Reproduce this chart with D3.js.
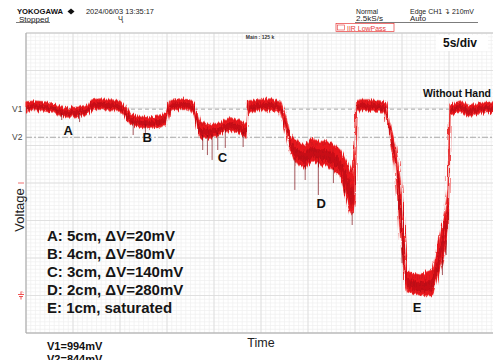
<!DOCTYPE html>
<html><head><meta charset="utf-8">
<script src="https://cdn.jsdelivr.net/npm/d3@7"></script>
<style>
html,body{margin:0;padding:0;background:#fff;overflow:hidden;}
svg{display:block;}
</style></head>
<body>
<script>
// ---- data ----
const time  = [0,0.96,2.0,2.9,3.6,4.7,5.7,6.6,7.0,7.9,8.9,10.0,10.4,11.1,12.1,13.2,14.3,14.9,15.3,16.4,17.4,17.9,18.5,19.6,20.6,21.7,22.8,23.4,23.6,24.9,26.0,27.0,27.6,28.1,28.6,29.1,29.7,30.2,30.7,31.3,31.8,32.3,32.9,33.4,34.0,34.7,35.0,35.2,35.5,36.6,37.7,38.3,38.7,39.3,39.8,40.3,40.6,41.9,43.2,43.6,44.0,44.6,44.9,45.1,46.2,47.2,48.3,50];
const upper = [1032,1037,1032,1021,1005,1000,1005,1016,1043,1048,1043,1037,1016,968,957,952,957,973,1037,1048,1043,1021,925,909,920,947,931,915,1037,1043,1048,1037,963,856,835,813,800,829,835,819,825,813,800,776,723,643,776,1032,1043,1043,1037,1027,909,803,616,296,125,109,136,216,323,456,563,1016,1037,1011,1027,1032];
const lower = [984,989,984,979,957,952,957,968,989,995,989,989,968,915,899,893,899,915,984,995,989,963,840,840,856,883,867,845,979,989,989,979,883,776,720,696,680,712,712,696,700,680,660,643,536,429,509,979,989,984,984,968,829,696,349,83,19,3,0,56,136,243,349,963,979,952,973,979];
const spikeTime  = [3.8,5.7,11.4,12.7,18.8,19.3,19.8,20.4,21.2,23.1,28.6,29.7,31.1,32.7,33.9,34.7,40.0,44.3,44.7];
const spikeLevel = [936,925,856,867,776,749,723,776,787,792,563,616,536,600,547,376,173,109,216];
const cursorNames  = ["V1","V2"];
const cursorLevels = [994,844];
const pointLabels = ["A","B","C","D","E"];
const pointTime   = [4.5,12.9,20.9,31.4,41.6];
const pointLevel  = [856,818,712,467,-90];
const legendLines = ["A: 5cm, \u0394V=20mV","B: 4cm, \u0394V=80mV","C: 3cm, \u0394V=140mV","D: 2cm, \u0394V=280mV","E: 1cm, saturated"];
const cursorNotes = ["V1=994mV","V2=844mV"];

const W = 493, H = 360;
const svg = d3.select("body").append("svg").attr("width", W).attr("height", H);

const x = d3.scaleLinear().domain([0, 50]).range([26, 496]);
const y = d3.scaleLinear().domain([-200, 1400]).range([333, 33]);

// ---- grid ----
const grid = svg.append("g");
grid.selectAll("line.vminor").data(d3.range(0, 50.01, 0.5)).join("line")
  .attr("x1", d => x(d)).attr("x2", d => x(d)).attr("y1", y(1400)).attr("y2", y(-200))
  .attr("stroke", "#efefef").attr("stroke-width", 0.7);
grid.selectAll("line.hminor").data(d3.range(-200, 1400.1, 20)).join("line")
  .attr("x1", x(0)).attr("x2", x(50)).attr("y1", d => y(d)).attr("y2", d => y(d))
  .attr("stroke", "#efefef").attr("stroke-width", 0.7);
grid.selectAll("line.vmajor").data(d3.range(5, 50.01, 5)).join("line")
  .attr("x1", d => x(d)).attr("x2", d => x(d)).attr("y1", y(1400)).attr("y2", y(-200))
  .attr("stroke", "#dadada").attr("stroke-width", 0.8);
grid.selectAll("line.hmajor").data(d3.range(-200, 1400.1, 200)).join("line")
  .attr("x1", x(0)).attr("x2", x(50)).attr("y1", d => y(d)).attr("y2", d => y(d))
  .attr("stroke", "#dadada").attr("stroke-width", 0.8);
// frame
svg.append("line").attr("x1", x(0)).attr("x2", x(50)).attr("y1", y(1400)).attr("y2", y(1400)).attr("stroke", "#c8c8c8");
svg.append("line").attr("x1", x(0)).attr("x2", x(0)).attr("y1", y(1400)).attr("y2", y(-200)).attr("stroke", "#aaaaaa").attr("stroke-width", 1.2);
svg.append("line").attr("x1", x(0)).attr("x2", x(50)).attr("y1", y(-200)).attr("y2", y(-200)).attr("stroke", "#aaaaaa").attr("stroke-width", 1.2);

// ---- cursor lines ----
const dashes = ["4,3", "6,2,2,2"];
cursorLevels.forEach((v, i) => {
  svg.append("line").attr("x1", x(0)).attr("x2", x(50)).attr("y1", y(v)).attr("y2", y(v))
    .attr("stroke", "#a8a8a8").attr("stroke-width", 1).attr("stroke-dasharray", dashes[i]);
  svg.append("text").attr("x", 12).attr("y", y(v) + 3).text(cursorNames[i])
    .attr("font-family", "Liberation Sans, Arial, sans-serif").attr("font-size", 8.5).attr("fill", "#444");
});

// ---- waveform ----
const defs = svg.append("defs");
const pat = defs.append("pattern").attr("id", "noise").attr("patternUnits", "userSpaceOnUse")
  .attr("width", 2).attr("height", 7);
pat.append("rect").attr("width", 2).attr("height", 7).attr("fill", "#e8141c");
pat.append("rect").attr("x", 1).attr("y", 2).attr("width", 0.6).attr("height", 4).attr("fill", "#a00a12").attr("opacity", 0.35);
const flt = defs.append("filter").attr("id", "rough").attr("x", "-2%").attr("y", "-10%").attr("width", "104%").attr("height", "120%");
flt.append("feTurbulence").attr("type", "fractalNoise").attr("baseFrequency", "0.9 0.04").attr("numOctaves", 2).attr("seed", 3).attr("result", "n");
flt.append("feDisplacementMap").attr("in", "SourceGraphic").attr("in2", "n").attr("scale", 7).attr("xChannelSelector", "R").attr("yChannelSelector", "G");

const data = time.map((t, i) => ({t, hi: upper[i], lo: lower[i]}));
const area = d3.area().x(d => x(d.t)).y0(d => y(d.lo)).y1(d => y(d.hi));
// darker core of the noise band (middle part of the envelope)
const core = d3.area().x(d => x(d.t))
  .y0(d => y(d.lo + (d.hi - d.lo) * 0.2)).y1(d => y(d.hi - (d.hi - d.lo) * 0.35));
const wave = svg.append("g").attr("filter", "url(#rough)");
wave.append("path").datum(data).attr("d", area)
  .attr("fill", "#f3a0a0").attr("stroke", "#f3a0a0").attr("stroke-width", 2.2).attr("opacity", 0.8);
wave.append("path").datum(data).attr("d", area)
  .attr("fill", "url(#noise)").attr("stroke", "#ee2a2a").attr("stroke-width", 0.8);
wave.append("path").datum(data).attr("d", core)
  .attr("fill", "#8c0a10").attr("opacity", 0.35);

// spikes hanging below the band
const bis = d3.bisector(d => d.t).left;
function lowAt(t) {
  const i = Math.max(1, Math.min(data.length - 1, bis(data, t)));
  const a = data[i - 1], b = data[i];
  const f = (t - a.t) / (b.t - a.t);
  return a.lo + f * (b.lo - a.lo);
}
svg.append("g").selectAll("line").data(spikeTime).join("line")
  .attr("x1", d => x(d)).attr("x2", d => x(d))
  .attr("y1", d => y(lowAt(d)) - 3)
  .attr("y2", (d, i) => y(spikeLevel[i]))
  .attr("stroke", "#7a0a12").attr("stroke-width", 0.9).attr("opacity", 0.75);

// ---- point labels ----
svg.append("g").selectAll("text").data(pointLabels).join("text")
  .attr("x", (d, i) => x(pointTime[i])).attr("y", (d, i) => y(pointLevel[i]))
  .attr("text-anchor", "middle").text(d => d)
  .attr("font-family", "Liberation Sans, Arial, sans-serif").attr("font-weight", "bold")
  .attr("font-size", 13).attr("fill", "#111");

// ---- legend ----
svg.append("g").selectAll("text").data(legendLines).join("text")
  .attr("x", 47).attr("y", (d, i) => 241 + i * 18).text(d => d)
  .attr("font-family", "Liberation Sans, Arial, sans-serif").attr("font-weight", "bold")
  .attr("font-size", 15).attr("fill", "#151515");

// ---- annotations ----
svg.append("text").attr("x", 423).attr("y", 97).text("Without Hand")
  .attr("textLength", 68).attr("lengthAdjust", "spacingAndGlyphs")
  .attr("font-family", "Liberation Sans, Arial, sans-serif").attr("font-weight", "bold")
  .attr("font-size", 11).attr("fill", "#111");
svg.append("rect").attr("x", 436).attr("y", 35).attr("width", 52).attr("height", 16).attr("fill", "#fff");
svg.append("text").attr("x", 443).attr("y", 47).text("5s/div")
  .attr("font-family", "Liberation Sans, Arial, sans-serif").attr("font-weight", "bold")
  .attr("font-size", 12).attr("fill", "#111");
svg.append("text").attr("x", 260).attr("y", 38.5).attr("text-anchor", "middle").text("Main : 125 k")
  .attr("font-family", "Liberation Sans, Arial, sans-serif").attr("font-weight", "bold")
  .attr("font-size", 5).attr("fill", "#333");

// axis titles
svg.append("text").attr("transform", `translate(24,${y(600) + 27}) rotate(-90)`).attr("text-anchor", "middle")
  .text("Voltage").attr("font-family", "Liberation Sans, Arial, sans-serif").attr("font-size", 13).attr("fill", "#222");
svg.append("text").attr("x", 261).attr("y", 347).attr("text-anchor", "middle").text("Time")
  .attr("font-family", "Liberation Sans, Arial, sans-serif").attr("font-size", 12.5).attr("fill", "#222");
svg.append("g").selectAll("text").data(cursorNotes).join("text")
  .attr("x", 47).attr("y", (d, i) => 350 + i * 13).text(d => d)
  .attr("font-family", "Liberation Sans, Arial, sans-serif").attr("font-weight", "bold")
  .attr("font-size", 11).attr("fill", "#111");

// left markers (red)
svg.append("line").attr("x1", 18).attr("x2", 24).attr("y1", y(600)).attr("y2", y(600)).attr("stroke", "#f07070").attr("stroke-width", 1);
const g0 = svg.append("g").attr("transform", `translate(21,${y(0)})`).attr("stroke", "#ee4040").attr("fill", "none").attr("stroke-width", 0.9);
g0.append("path").attr("d", "M-3,-1 H3 M-2,1 H2 M0,-4 V-1 M0,1 V4 M1,-4 L2,-3");

// ---- header ----
const hf = "Liberation Sans, Arial, sans-serif";
function htxt(tx, ty, s, len, opts = {}) {
  const t = svg.append("text").attr("x", tx).attr("y", ty).text(s)
    .attr("font-family", hf).attr("font-size", opts.size || 8).attr("fill", opts.fill || "#222");
  if (opts.bold) t.attr("font-weight", "bold");
  if (len) t.attr("textLength", len).attr("lengthAdjust", "spacingAndGlyphs");
  return t;
}
htxt(17, 13.5, "YOKOGAWA", 46, {size: 8, bold: true, fill: "#111"});
svg.append("path").attr("d", `M71,8.5 L74.5,11.5 L71,14.5 L67.5,11.5 Z`).attr("fill", "#111");
htxt(19, 21.5, "Stopped", 30, {size: 7.5});
svg.append("line").attr("x1", 16).attr("x2", 50).attr("y1", 22.5).attr("y2", 22.5).attr("stroke", "#444").attr("stroke-width", 0.7);
htxt(86, 13.5, "2024/06/03 13:35:17", 68, {size: 8});
htxt(118, 21, "\u04B6", 5, {size: 7});
htxt(356, 13.5, "Normal", 22, {size: 8});
htxt(356, 21, "2.5kS/s", 27, {size: 8});
svg.append("line").attr("x1", 355).attr("x2", 478).attr("y1", 22.5).attr("y2", 22.5).attr("stroke", "#444").attr("stroke-width", 0.7);
htxt(410, 13.5, "Edge CH1 \u21B4 210mV", 64, {size: 8});
htxt(410, 21, "Auto", 16, {size: 8});
svg.append("rect").attr("x", 336).attr("y", 23.5).attr("width", 58).attr("height", 8)
  .attr("fill", "#fff").attr("stroke", "#e83a3a").attr("stroke-width", 0.7);
svg.append("rect").attr("x", 337.5).attr("y", 25).attr("width", 7).attr("height", 5).attr("fill", "none").attr("stroke", "#e83a3a").attr("stroke-width", 0.6);
htxt(347, 30.5, "IIR LowPass", 39, {size: 7.5, fill: "#e83a3a"});
</script>
</body></html>
